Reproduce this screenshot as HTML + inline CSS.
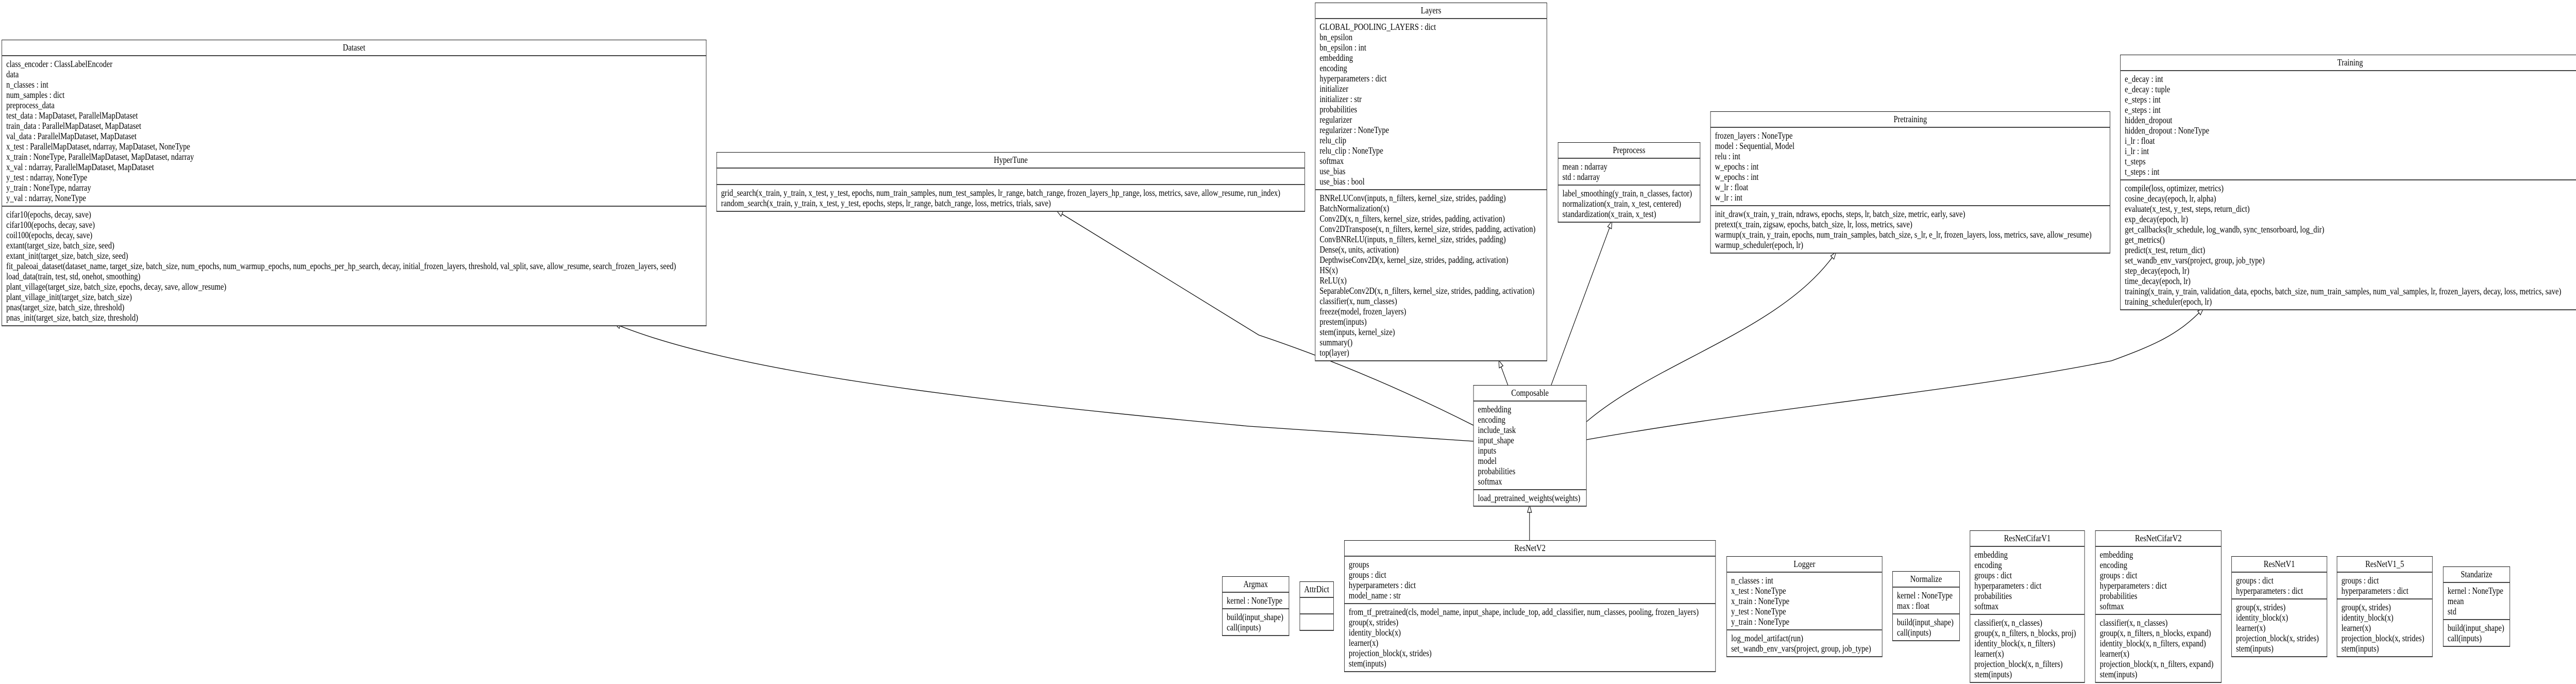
<!DOCTYPE html>
<html><head><meta charset="utf-8"><style>
html,body{margin:0;padding:0;background:#fff;overflow:hidden;}
#root{position:absolute;left:0;top:0;width:6197px;height:1327px;overflow:hidden;font-family:"Liberation Serif","Times New Roman",serif;font-size:18px;color:#000;background:#fff;transform:scale(0.8085,1);transform-origin:0 0;}
.b{position:absolute;box-sizing:border-box;border:1px solid #111;border-bottom:2px solid #444;background:#fff;overflow:hidden;}
.h{height:29px;line-height:29px;text-align:center;border-bottom:2px solid #444;white-space:nowrap;}
.s{padding:5px 10px;line-height:20px;white-space:nowrap;min-height:20px;}
.s+.s{border-top:2px solid #444;}
svg{position:absolute;left:0;top:0;}
</style></head><body><div id="root">
<svg width="6197" height="1327" viewBox="0 0 6197 1327">
<defs><marker id="a" markerWidth="16" markerHeight="12" refX="15" refY="6" orient="auto" markerUnits="userSpaceOnUse"><path d="M1,1 L15,6 L1,11 Z" fill="#fff" stroke="#000" stroke-width="1.2"/></marker></defs>
<g fill="none" stroke="#000" stroke-width="1.3">
<path d="M3620,747 L3598,699" marker-end="url(#a)"/>
<path d="M3724,747 L3870,429" marker-end="url(#a)"/>
<path d="M3809,818 C3980,700 4280,640 4408,489" marker-end="url(#a)"/>
<path d="M3809,853 C4250,790 4700,760 5069,700 C5170,670 5230,650 5290,598" marker-end="url(#a)"/>
<path d="M3537,825 Q3280,720 3022,650 L2537,409" marker-end="url(#a)"/>
<path d="M3537,856 L3000,827 C2300,775 1750,720 1475,628" marker-end="url(#a)"/>
<path d="M3672,1048 L3672,980" marker-end="url(#a)"/>
</g></svg>

<div class="b" style="left:4px;top:77px;width:1692px"><div class="h">Dataset</div>
<div class="s">class_encoder : ClassLabelEncoder<br>data<br>n_classes : int<br>num_samples : dict<br>preprocess_data<br>test_data : MapDataset, ParallelMapDataset<br>train_data : ParallelMapDataset, MapDataset<br>val_data : ParallelMapDataset, MapDataset<br>x_test : ParallelMapDataset, ndarray, MapDataset, NoneType<br>x_train : NoneType, ParallelMapDataset, MapDataset, ndarray<br>x_val : ndarray, ParallelMapDataset, MapDataset<br>y_test : ndarray, NoneType<br>y_train : NoneType, ndarray<br>y_val : ndarray, NoneType</div>
<div class="s">cifar10(epochs, decay, save)<br>cifar100(epochs, decay, save)<br>coil100(epochs, decay, save)<br>extant(target_size, batch_size, seed)<br>extant_init(target_size, batch_size, seed)<br>fit_paleoai_dataset(dataset_name, target_size, batch_size, num_epochs, num_warmup_epochs, num_epochs_per_hp_search, decay, initial_frozen_layers, threshold, val_split, save, allow_resume, search_frozen_layers, seed)<br>load_data(train, test, std, onehot, smoothing)<br>plant_village(target_size, batch_size, epochs, decay, save, allow_resume)<br>plant_village_init(target_size, batch_size)<br>pnas(target_size, batch_size, threshold)<br>pnas_init(target_size, batch_size, threshold)</div></div>

<div class="b" style="left:1720px;top:295px;width:1413px"><div class="h">HyperTune</div>
<div class="s"></div>
<div class="s">grid_search(x_train, y_train, x_test, y_test, epochs, num_train_samples, num_test_samples, lr_range, batch_range, frozen_layers_hp_range, loss, metrics, save, allow_resume, run_index)<br>random_search(x_train, y_train, x_test, y_test, epochs, steps, lr_range, batch_range, loss, metrics, trials, save)</div></div>

<div class="b" style="left:3157px;top:5px;width:557px"><div class="h">Layers</div>
<div class="s">GLOBAL_POOLING_LAYERS : dict<br>bn_epsilon<br>bn_epsilon : int<br>embedding<br>encoding<br>hyperparameters : dict<br>initializer<br>initializer : str<br>probabilities<br>regularizer<br>regularizer : NoneType<br>relu_clip<br>relu_clip : NoneType<br>softmax<br>use_bias<br>use_bias : bool</div>
<div class="s">BNReLUConv(inputs, n_filters, kernel_size, strides, padding)<br>BatchNormalization(x)<br>Conv2D(x, n_filters, kernel_size, strides, padding, activation)<br>Conv2DTranspose(x, n_filters, kernel_size, strides, padding, activation)<br>ConvBNReLU(inputs, n_filters, kernel_size, strides, padding)<br>Dense(x, units, activation)<br>DepthwiseConv2D(x, kernel_size, strides, padding, activation)<br>HS(x)<br>ReLU(x)<br>SeparableConv2D(x, n_filters, kernel_size, strides, padding, activation)<br>classifier(x, num_classes)<br>freeze(model, frozen_layers)<br>prestem(inputs)<br>stem(inputs, kernel_size)<br>summary()<br>top(layer)</div></div>

<div class="b" style="left:3740px;top:276px;width:342px"><div class="h">Preprocess</div>
<div class="s">mean : ndarray<br>std : ndarray</div>
<div class="s">label_smoothing(y_train, n_classes, factor)<br>normalization(x_train, x_test, centered)<br>standardization(x_train, x_test)</div></div>

<div class="b" style="left:4106px;top:216px;width:960px"><div class="h">Pretraining</div>
<div class="s">frozen_layers : NoneType<br>model : Sequential, Model<br>relu : int<br>w_epochs : int<br>w_epochs : int<br>w_lr : float<br>w_lr : int</div>
<div class="s">init_draw(x_train, y_train, ndraws, epochs, steps, lr, batch_size, metric, early, save)<br>pretext(x_train, zigsaw, epochs, batch_size, lr, loss, metrics, save)<br>warmup(x_train, y_train, epochs, num_train_samples, batch_size, s_lr, e_lr, frozen_layers, loss, metrics, save, allow_resume)<br>warmup_scheduler(epoch, lr)</div></div>

<div class="b" style="left:5090px;top:106px;width:1104px"><div class="h">Training</div>
<div class="s">e_decay : int<br>e_decay : tuple<br>e_steps : int<br>e_steps : int<br>hidden_dropout<br>hidden_dropout : NoneType<br>i_lr : float<br>i_lr : int<br>t_steps<br>t_steps : int</div>
<div class="s">compile(loss, optimizer, metrics)<br>cosine_decay(epoch, lr, alpha)<br>evaluate(x_test, y_test, steps, return_dict)<br>exp_decay(epoch, lr)<br>get_callbacks(lr_schedule, log_wandb, sync_tensorboard, log_dir)<br>get_metrics()<br>predict(x_test, return_dict)<br>set_wandb_env_vars(project, group, job_type)<br>step_decay(epoch, lr)<br>time_decay(epoch, lr)<br>training(x_train, y_train, validation_data, epochs, batch_size, num_train_samples, num_val_samples, lr, frozen_layers, decay, loss, metrics, save)<br>training_scheduler(epoch, lr)</div></div>

<div class="b" style="left:3537px;top:747px;width:272px"><div class="h">Composable</div>
<div class="s">embedding<br>encoding<br>include_task<br>input_shape<br>inputs<br>model<br>probabilities<br>softmax</div>
<div class="s">load_pretrained_weights(weights)</div></div>

<div class="b" style="left:2934px;top:1118px;width:161px"><div class="h">Argmax</div>
<div class="s">kernel : NoneType</div>
<div class="s">build(input_shape)<br>call(inputs)</div></div>

<div class="b" style="left:3120px;top:1128px;width:82px"><div class="h">AttrDict</div>
<div class="s"></div>
<div class="s"></div></div>

<div class="b" style="left:3227px;top:1048px;width:892px"><div class="h">ResNetV2</div>
<div class="s">groups<br>groups : dict<br>hyperparameters : dict<br>model_name : str</div>
<div class="s">from_tf_pretrained(cls, model_name, input_shape, include_top, add_classifier, num_classes, pooling, frozen_layers)<br>group(x, strides)<br>identity_block(x)<br>learner(x)<br>projection_block(x, strides)<br>stem(inputs)</div></div>

<div class="b" style="left:4145px;top:1079px;width:374px"><div class="h">Logger</div>
<div class="s">n_classes : int<br>x_test : NoneType<br>x_train : NoneType<br>y_test : NoneType<br>y_train : NoneType</div>
<div class="s">log_model_artifact(run)<br>set_wandb_env_vars(project, group, job_type)</div></div>

<div class="b" style="left:4543px;top:1108px;width:162px"><div class="h">Normalize</div>
<div class="s">kernel : NoneType<br>max : float</div>
<div class="s">build(input_shape)<br>call(inputs)</div></div>

<div class="b" style="left:4729px;top:1029px;width:276px"><div class="h">ResNetCifarV1</div>
<div class="s">embedding<br>encoding<br>groups : dict<br>hyperparameters : dict<br>probabilities<br>softmax</div>
<div class="s">classifier(x, n_classes)<br>group(x, n_filters, n_blocks, proj)<br>identity_block(x, n_filters)<br>learner(x)<br>projection_block(x, n_filters)<br>stem(inputs)</div></div>

<div class="b" style="left:5030px;top:1029px;width:303px"><div class="h">ResNetCifarV2</div>
<div class="s">embedding<br>encoding<br>groups : dict<br>hyperparameters : dict<br>probabilities<br>softmax</div>
<div class="s">classifier(x, n_classes)<br>group(x, n_filters, n_blocks, expand)<br>identity_block(x, n_filters, expand)<br>learner(x)<br>projection_block(x, n_filters, expand)<br>stem(inputs)</div></div>

<div class="b" style="left:5357px;top:1079px;width:230px"><div class="h">ResNetV1</div>
<div class="s">groups : dict<br>hyperparameters : dict</div>
<div class="s">group(x, strides)<br>identity_block(x)<br>learner(x)<br>projection_block(x, strides)<br>stem(inputs)</div></div>

<div class="b" style="left:5610px;top:1079px;width:230px"><div class="h">ResNetV1_5</div>
<div class="s">groups : dict<br>hyperparameters : dict</div>
<div class="s">group(x, strides)<br>identity_block(x)<br>learner(x)<br>projection_block(x, strides)<br>stem(inputs)</div></div>

<div class="b" style="left:5865px;top:1099px;width:161px"><div class="h">Standarize</div>
<div class="s">kernel : NoneType<br>mean<br>std</div>
<div class="s">build(input_shape)<br>call(inputs)</div></div>
</div></body></html>
